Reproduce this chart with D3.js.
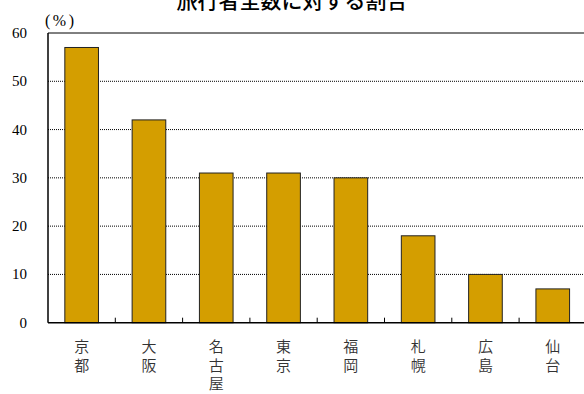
<!DOCTYPE html>
<html>
<head>
<meta charset="utf-8">
<script src="https://cdn.jsdelivr.net/npm/d3@7"></script>
<style>
  body { margin: 0; background: #fff; }
  svg { display: block; }
</style>
</head>
<body>
<div id="chart"></div>
<script>
// data
var cities = ['京都', '大阪', '名古屋', '東京', '福岡', '札幌', '広島', '仙台'];
var shares = [57, 42, 31, 31, 30, 18, 10, 7];
var yTicks = [0, 10, 20, 30, 40, 50, 60];
var title = '旅行者全数に対する割合';

var width = 584, height = 394;
var margin = { top: 33, left: 48, bottom: 71 },
    plotRight = 48 + 8 * 67.3;

var svg = d3.select('#chart')
  .append('svg')
    .attr('width', width)
    .attr('height', height);

var x = d3.scaleBand()
    .domain(cities)
    .range([margin.left, plotRight])
    .paddingInner(0.5)
    .paddingOuter(0.25);

var y = d3.scaleLinear()
    .domain([0, 60])
    .range([height - margin.bottom - 0.3, margin.top]);

// title, mostly cut by the top edge (as in the original)
svg.append('text')
    .attr('x', 292)
    .attr('y', 8)
    .attr('text-anchor', 'middle')
    .style('font-family', '"Noto Sans CJK JP", sans-serif')
    .style('font-size', '21px')
    .style('font-weight', 500)
    .text(title);

// dotted grid lines
svg.append('g')
  .selectAll('line')
  .data(yTicks.filter(d => d > 0 && d < 60))
  .enter().append('line')
    .attr('x1', margin.left)
    .attr('x2', width)
    .attr('y1', d => y(d))
    .attr('y2', d => y(d))
    .attr('stroke', '#000')
    .attr('stroke-width', 1)
    .attr('stroke-dasharray', '1,1');

// bars
svg.append('g')
  .selectAll('rect')
  .data(cities)
  .enter().append('rect')
    .attr('x', d => x(d))
    .attr('y', (d, i) => y(shares[i]))
    .attr('width', x.bandwidth())
    .attr('height', (d, i) => y(0) - y(shares[i]))
    .attr('fill', '#d49e00')
    .attr('stroke', '#222')
    .attr('stroke-width', 1);

// frame
svg.append('line')
    .attr('x1', margin.left).attr('x2', width)
    .attr('y1', margin.top).attr('y2', margin.top)
    .attr('stroke', '#000');
svg.append('line')
    .attr('x1', margin.left).attr('x2', margin.left)
    .attr('y1', margin.top).attr('y2', y(0))
    .attr('stroke', '#000').attr('stroke-width', 1.5);
svg.append('line')
    .attr('x1', margin.left).attr('x2', width)
    .attr('y1', y(0)).attr('y2', y(0))
    .attr('stroke', '#000').attr('stroke-width', 1.5);

// category separator ticks on the bottom axis
var step = x.step();
svg.append('g')
  .selectAll('line')
  .data(cities.slice(1))
  .enter().append('line')
    .attr('x1', d => x(d) - step * 0.25)
    .attr('x2', d => x(d) - step * 0.25)
    .attr('y1', y(0))
    .attr('y2', y(0) - 5)
    .attr('stroke', '#000');

// y axis labels
var yAxis = d3.axisLeft(y).tickValues(yTicks).tickSize(0).tickPadding(21);
svg.append('g')
    .attr('transform', 'translate(' + margin.left + ',0)')
    .call(yAxis)
    .call(g => g.select('.domain').remove())
    .selectAll('text')
      .attr('dy', '0.3em')
      .attr('fill', '#000')
      .style('font-family', '"Liberation Serif", serif')
      .style('font-size', '15px');

svg.append('text')
    .attr('x', 45)
    .attr('y', 26)
    .style('font-family', '"Liberation Serif", serif')
    .style('font-size', '16px')
    .style('letter-spacing', '2.5px')
    .text('(%)');

// vertical category labels, one text per character
svg.append('g')
  .selectAll('text')
  .data(cities.flatMap(d => Array.from(d).map((c, i) => ({ c: c, i: i, city: d }))))
  .enter().append('text')
    .attr('text-anchor', 'middle')
    .attr('x', d => x(d.city) + x.bandwidth() / 2)
    .attr('y', d => 352 + d.i * 18.5)
    .attr('fill', '#333')
    .style('font-family', '"Noto Sans CJK JP", sans-serif')
    .style('font-size', '15px')
    .style('font-weight', 350)
    .text(d => d.c);
</script>
</body>
</html>
